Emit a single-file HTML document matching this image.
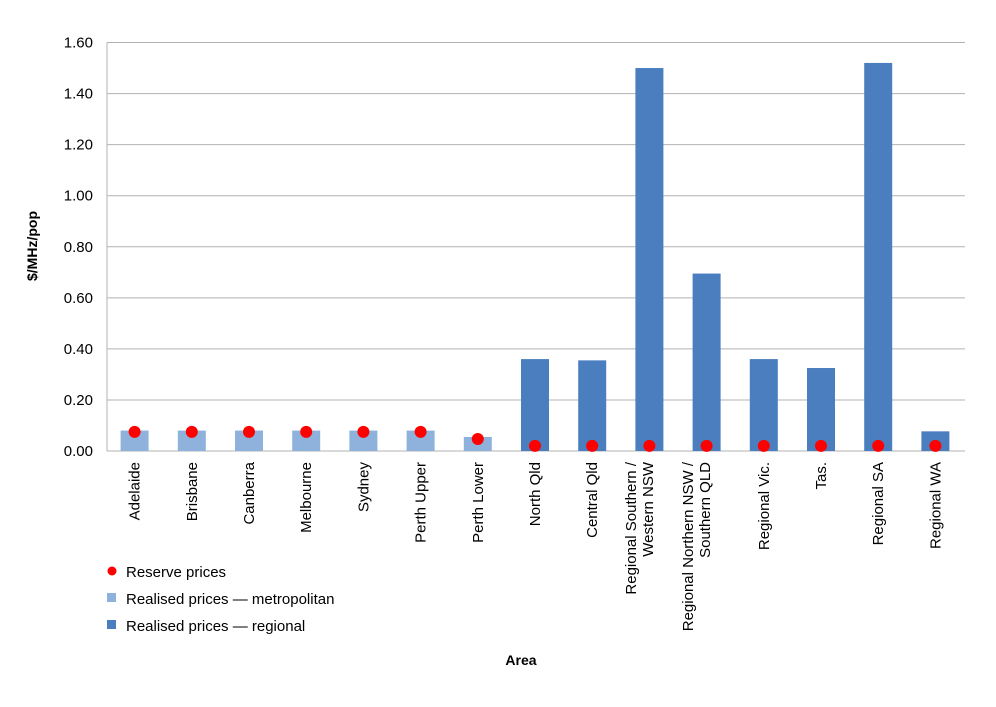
<!DOCTYPE html>
<html><head><meta charset="utf-8"><style>
body{margin:0;background:#fff;font-family:"Liberation Sans",Arial,sans-serif;}
</style></head><body>
<svg id="chart" width="996" height="702" xmlns="http://www.w3.org/2000/svg" font-family="Liberation Sans, Arial, sans-serif">
<g id="grid"></g><g id="bars"></g><g id="dots"></g><g id="ylabels"></g><g id="xlabels"></g>
<text x="37" y="246" transform="rotate(-90 37 246)" text-anchor="middle" font-size="14" font-weight="bold">$/MHz/pop</text>
<text x="521" y="665" text-anchor="middle" font-size="14" font-weight="bold">Area</text>
<g font-size="15">
<circle cx="112" cy="571" r="4.5" fill="#ff0000"/>
<text x="126" y="577">Reserve prices</text>
<rect x="107" y="593" width="9" height="9" fill="#8eb2dc"/>
<text x="126" y="604">Realised prices — metropolitan</text>
<rect x="107" y="620" width="9" height="9" fill="#4a7ebf"/>
<text x="126" y="631">Realised prices — regional</text>
</g>
</svg>
<script>
const categories=[["Adelaide"],["Brisbane"],["Canberra"],["Melbourne"],["Sydney"],["Perth Upper"],["Perth Lower"],["North Qld"],["Central Qld"],["Regional Southern /","Western NSW"],["Regional Northern NSW /","Southern QLD"],["Regional Vic."],["Tas."],["Regional SA"],["Regional WA"]];
const realised=[0.08,0.08,0.08,0.08,0.08,0.08,0.055,0.36,0.355,1.50,0.695,0.36,0.325,1.52,0.077];
const regional=[0,0,0,0,0,0,0,1,1,1,1,1,1,1,1];
const reserve=[0.075,0.075,0.075,0.075,0.075,0.075,0.047,0.02,0.02,0.02,0.02,0.02,0.02,0.02,0.02];
const yTicks=["0.00","0.20","0.40","0.60","0.80","1.00","1.20","1.40","1.60"];
const NS="http://www.w3.org/2000/svg";
const X0=107,X1=965,Y0=451,Y1=42.5,YMAX=1.6;
const y=v=>Y0-(v/YMAX)*(Y0-Y1);
const bw=(X1-X0)/categories.length;
const xc=i=>X0+bw*(i+0.5);
function mk(t,a,p){const e=document.createElementNS(NS,t);for(const k in a)e.setAttribute(k,a[k]);p.appendChild(e);return e;}
const grid=document.getElementById('grid'),yl=document.getElementById('ylabels');
yTicks.forEach(t=>{const v=parseFloat(t);const yy=y(v);
const l=mk('line',{x1:X0,x2:X1,y1:yy,y2:yy,stroke:'#b3b3b3','stroke-width':1},grid);


const tx=mk('text',{x:93,y:yy+5,'text-anchor':'end','font-size':15},yl);tx.textContent=t;

});
const ax=mk('line',{x1:X0,x2:X0,y1:Y1,y2:Y0,stroke:'#b3b3b3'},grid);


const bars=document.getElementById('bars'),dots=document.getElementById('dots'),xl=document.getElementById('xlabels');
categories.forEach((c,i)=>{
const b=mk('rect',{x:xc(i)-15,y:y(realised[i]),width:28,height:Y0-y(realised[i]),fill:regional[i]?'#4a7ebf':'#8eb2dc'},bars);


const d=mk('circle',{cx:xc(i)-1,cy:y(reserve[i]),r:6,fill:'#ff0000'},dots);


const n=c.length;
c.forEach((line,j)=>{const xx=xc(i)+4+(j-(n-1)/2)*17-(n>1?10:0);
const t=mk('text',{x:xx,y:462,'text-anchor':'end','font-size':15,transform:`rotate(-90 ${xx} 462)`},xl);t.textContent=line;

});
});
</script>
</body></html>
